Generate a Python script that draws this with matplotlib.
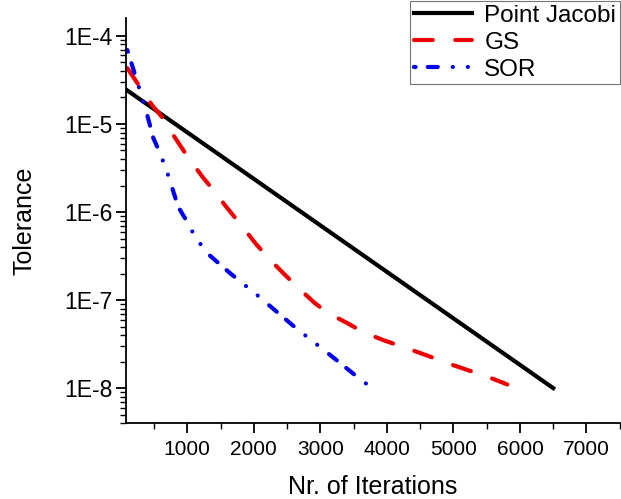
import matplotlib.pyplot as plt
import numpy as np
from matplotlib.ticker import FuncFormatter, LogLocator, MultipleLocator

plt.rcParams['font.family'] = ['Liberation Sans', 'DejaVu Sans']

# Data
jacobi_iter = [100, 6500]
jacobi_tol = [2.4e-5, 1.0e-8]

gs_iter = [100, 470, 620, 820, 1010, 1230, 1390, 1600, 1830, 2020, 2220, 2440,
           2670, 2920, 3120, 3400, 3650, 3950, 4460, 5000, 5530, 5810]
gs_tol = [4.3e-5, 1.64e-5, 1.2e-5, 6.9e-6, 4.2e-6, 2.5e-6, 1.78e-6, 1.11e-6,
          6.8e-7, 4.45e-7, 3.0e-7, 2.03e-7, 1.37e-7, 9.2e-8, 7.1e-8, 5.5e-8,
          4.3e-8, 3.5e-8, 2.57e-8, 1.82e-8, 1.33e-8, 1.1e-8]

sor_iter = [100, 370, 490, 590, 700, 865, 1000, 1120, 1300, 1650, 2050, 2350,
            2620, 3150, 3560, 3720]
sor_tol = [6.9e-5, 1.52e-5, 6.9e-6, 4.7e-6, 2.8e-6, 1.14e-6, 7.7e-7, 5.2e-7,
           3.4e-7, 2.0e-7, 1.14e-7, 7.3e-8, 4.9e-8, 2.37e-8, 1.33e-8, 1.08e-8]

fig = plt.figure(figsize=(6.21, 4.99), dpi=100)
ax = fig.add_axes([0.203, 0.152, 0.795, 0.812])

ax.plot(jacobi_iter, jacobi_tol, color='black', lw=3, label='Point Jacobi')
ax.plot(gs_iter, gs_tol, color='#ee0000', lw=3,
        linestyle=(0, (4.5, 5.4)), dash_capstyle='round', label='GS')
# dash dash dot dot
ax.plot(sor_iter, sor_tol, color='#0000ee', lw=3,
        linestyle=(2, (2.4, 2.9, 2.4, 3.6, 0.02, 3.6, 0.02, 3.6)),
        dash_capstyle='round', label='SOR')

ax.set_yscale('log')
ax.set_xlim(80, 7500)
ax.set_ylim(4.0e-9, 1.6e-4)

ax.xaxis.set_major_locator(MultipleLocator(1000))
ax.xaxis.set_minor_locator(MultipleLocator(500))
ax.yaxis.set_major_locator(LogLocator(base=10))
ax.yaxis.set_minor_locator(LogLocator(base=10, subs=np.arange(2, 10)))
ax.yaxis.set_major_formatter(FuncFormatter(lambda v, p: '1E%d' % round(np.log10(v))))
ax.yaxis.set_minor_formatter(FuncFormatter(lambda v, p: ''))
ax.xaxis.set_major_formatter(FuncFormatter(lambda v, p: '%d' % v if v >= 1000 else ''))

ax.spines['top'].set_visible(False)
ax.spines['right'].set_visible(False)
for s in ('left', 'bottom'):
    ax.spines[s].set_linewidth(1.3)

ax.tick_params(which='major', direction='out', length=7, width=1.3)
ax.tick_params(which='minor', direction='out', length=4, width=1.0)
ax.tick_params(axis='x', labelsize=15, pad=5)
ax.tick_params(axis='y', labelsize=16.5, pad=3)

ax.set_xlabel('Nr. of Iterations', fontsize=18, labelpad=12)
ax.set_ylabel('Tolerance', fontsize=18, labelpad=20)

leg = ax.legend(loc='upper right', bbox_to_anchor=(1.0, 1.0),
                bbox_transform=fig.transFigure, fontsize=17.5, frameon=True,
                fancybox=False, edgecolor='#777777', framealpha=1,
                handlelength=2.4, handletextpad=0.5, borderpad=0.15,
                labelspacing=0.2, borderaxespad=0.05)
leg.get_frame().set_linewidth(0.8)

fig.savefig('out.png', dpi=100)
